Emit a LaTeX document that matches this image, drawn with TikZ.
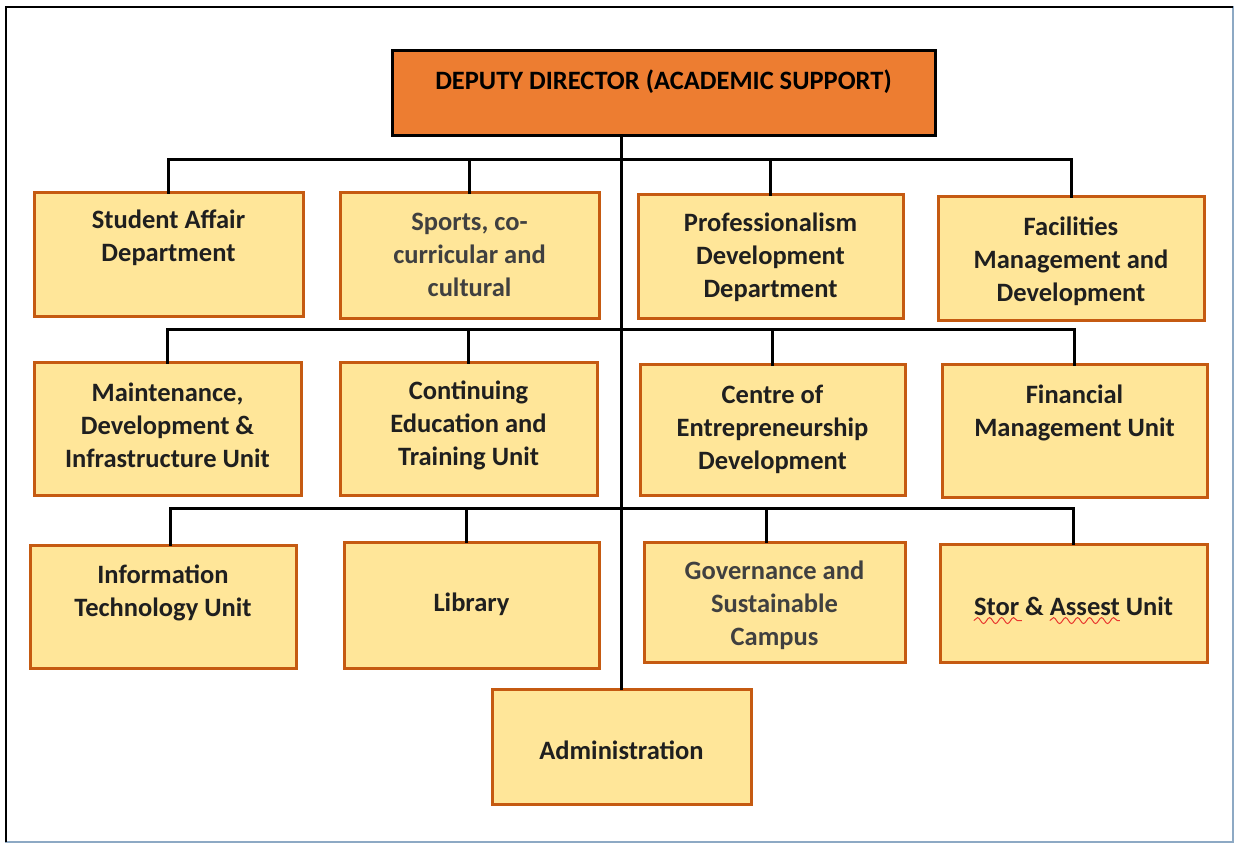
\documentclass[tikz,border=0pt]{standalone}
\usepackage{fontspec}
\setmainfont{Carlito}
\usepackage{xcolor}
\usetikzlibrary{calc}
\usetikzlibrary{decorations.pathmorphing}

\definecolor{headfill}{HTML}{ED7D31}
\definecolor{unitfill}{HTML}{FFE699}
\definecolor{unitline}{HTML}{C55A11}
\definecolor{frameblue}{HTML}{8DA9C4}
\definecolor{spellred}{HTML}{E8382F}

\begin{document}
\begin{tikzpicture}[x = 1pt, y = -1pt, scale = 0.5, transform shape]
		\useasboundingbox (0, 0) rectangle (1236, 844);
		
		% frame
		\draw [frameblue, line width = 1.2pt] (6, 7) rectangle (1233, 842);
		\draw [black, line width = 1pt] (6, 842) -- (6, 7) -- (1233, 7);
		
		\begin{scope}[every node/.style = {rectangle, draw = black, fill = headfill, line width = 1.5pt}]
		\node (0) [minimum width = 543, minimum height = 85] at (663.5, 93.5) {};
		\end{scope}
		
		\begin{scope}[every node/.style = {rectangle, draw = unitline, fill = unitfill, line width = 1.5pt}]
		\node (1) [minimum width = 269, minimum height = 124] at (168.5, 255) {};
		\node (2) [minimum width = 259, minimum height = 126] at (469.5, 256) {};
		\node (3) [minimum width = 265, minimum height = 124] at (770.5, 257) {};
		\node (4) [minimum width = 266, minimum height = 124] at (1071, 259) {};
		
		\node (5) [minimum width = 267, minimum height = 132] at (167.5, 429) {};
		\node (6) [minimum width = 257, minimum height = 132] at (468.5, 429) {};
		\node (7) [minimum width = 265, minimum height = 130] at (772.5, 430) {};
		\node (8) [minimum width = 265, minimum height = 132] at (1074.5, 431) {};
		
		\node (9) [minimum width = 266, minimum height = 123] at (163, 606.5) {};
		\node (10) [minimum width = 255, minimum height = 126] at (471.5, 605) {};
		\node (11) [minimum width = 261, minimum height = 120] at (774.5, 602) {};
		\node (12) [minimum width = 267, minimum height = 118] at (1073.5, 603) {};
		
		\node (13) [minimum width = 259, minimum height = 115] at (621.5, 746.5) {};
		\end{scope}
		
		\begin{scope}[every node/.style = {align = center, inner sep = 0, text = black!88,
			font = \fontsize{26.5}{33}\selectfont\bfseries}]
		\node (0t) [text = black] at (663.5, 82) {DEPUTY DIRECTOR (ACADEMIC SUPPORT)};
		
		\node (1t) at (168.5, 238) {Student Affair\\Department};
		\node (2t) [text = black!75] at (469.5, 255) {Sports, co-\\curricular and\\cultural};
		\node (3t) at (770.5, 257) {Professionalism\\Development\\Department};
		\node (4t) at (1071, 261) {Facilities\\Management and\\Development};
		
		\node (5t) at (167.5, 425) {Maintenance,\\Development \&\\Infrastructure Unit};
		\node (6t) at (468.5, 425) {Continuing\\Education and\\Training Unit};
		\node (7t) at (772.5, 429) {Centre of\\Entrepreneurship\\Development};
		\node (8t) at (1074.5, 412.5) {Financial\\Management Unit};
		
		\node (9t) at (163, 593) {Information\\Technology Unit};
		\node (10t) at (471.5, 604) {Library};
		\node (11t) [text = black!75] at (774.5, 605) {Governance and\\Sustainable\\Campus};
		\node (12t) at (1073.5, 606) {Stor \& Assest Unit};
		
		\node (13t) at (621.5, 750) {Administration};
		\end{scope}
		
		% spelling marks
		\tikzset{wavy/.style = {draw = spellred, line width = 0.5pt, decorate,
			decoration = {snake, amplitude = 1.5, segment length = 6}}}
		\path [wavy] ($(12t.south west) + (0, 5)$) -- ++(48, 0);
		\path [wavy] ($(12t.south west) + (76, 5)$) -- ++(70, 0);
		
		\coordinate (bus1) at (0, 160);
		\coordinate (bus2) at (0, 330);
		\coordinate (bus3) at (0, 508);
		
		\begin{scope}[line width = 1.5pt, line cap = rect]
		\draw (13.north) -- (13.north |- 0.south);
		
		\draw (1.north) -- (1.north |- bus1) -- (4.north |- bus1) -- (4.north);
		\draw (2.north) -- (2.north |- bus1);
		\draw (3.north) -- (3.north |- bus1);
		
		\draw (5.north) -- (5.north |- bus2) -- (8.north |- bus2) -- (8.north);
		\draw (6.north) -- (6.north |- bus2);
		\draw (7.north) -- (7.north |- bus2);
		
		\draw ([xshift = 7]9.north) -- ([xshift = 7]9.north |- bus3) -- (12.north |- bus3) -- (12.north);
		\draw ([xshift = -5]10.north) -- ([xshift = -5]10.north |- bus3);
		\draw ([xshift = -8]11.north) -- ([xshift = -8]11.north |- bus3);
		\end{scope}
		
\end{tikzpicture}
\end{document}
